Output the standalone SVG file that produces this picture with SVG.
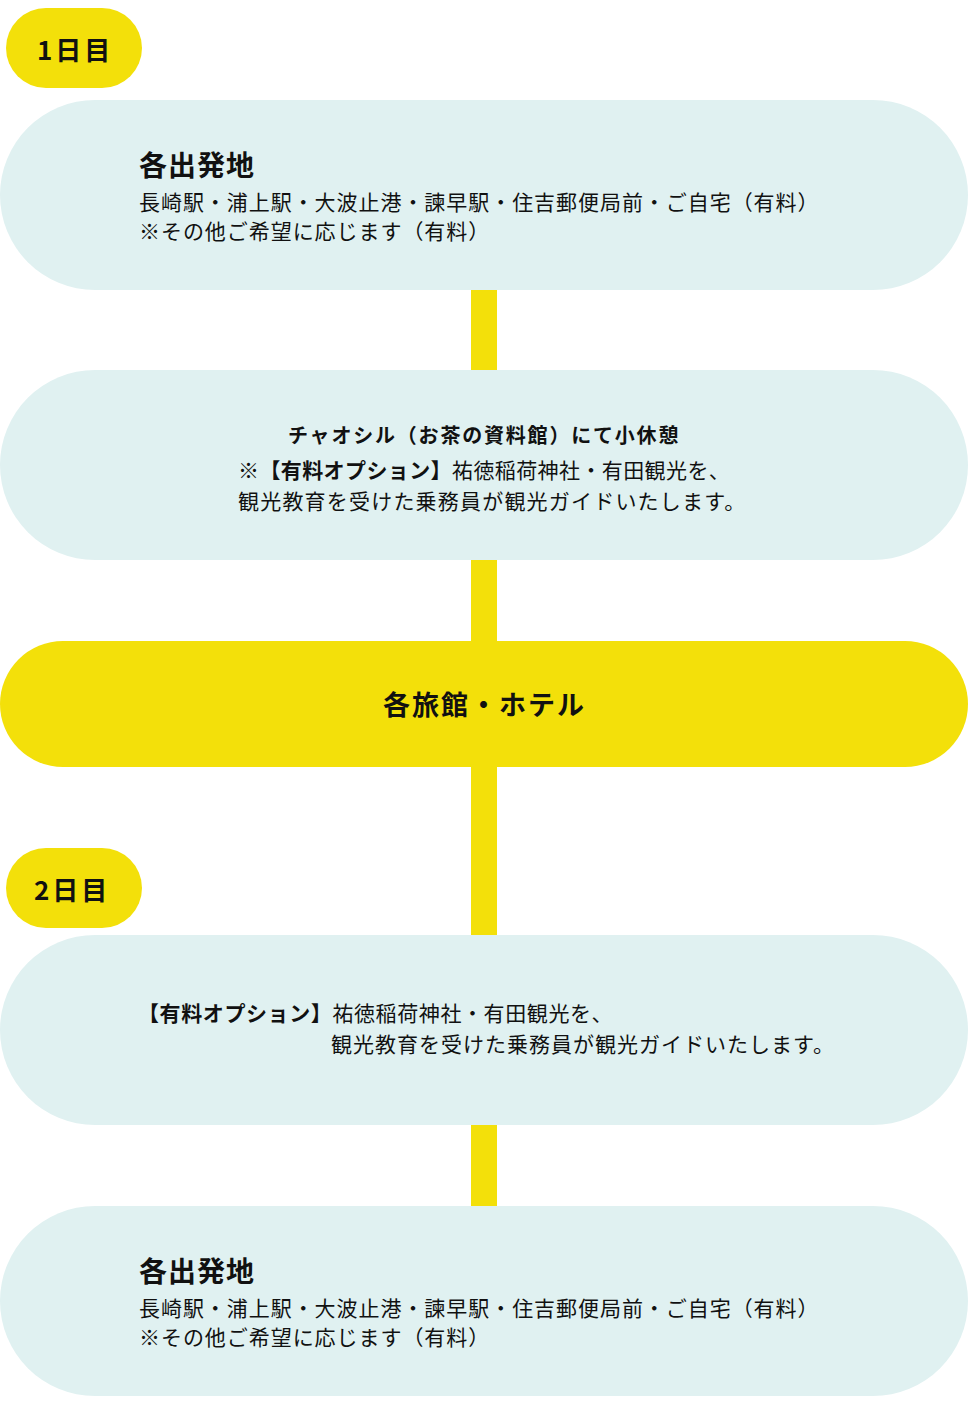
<svg xmlns="http://www.w3.org/2000/svg" width="968" height="1406" viewBox="0 0 968 1406">
<style>
.t{font-family:"Noto Sans CJK JP","Noto Sans",sans-serif;fill:#111;}
.b{font-weight:700;}
.blue{fill:#E0F1F1;}
.yel{fill:#F3E00A;}
.n{font-size:21px;}
.w{letter-spacing:0.95px;}
</style>
<rect width="968" height="1406" fill="#fff"/>
<g id="connectors" class="yel">
<rect x="471" y="288" width="26" height="84"/>
<rect x="471" y="558" width="26" height="85"/>
<rect x="471" y="765" width="26" height="172"/>
<rect x="471" y="1123" width="26" height="85"/>
</g>
<g id="day1">
<rect class="yel" x="6" y="8" width="136" height="80" rx="40"/>
<text class="t b" x="37" y="60" font-size="26" letter-spacing="3">1日目</text>
</g>
<g id="start1">
<rect class="blue" x="0" y="100" width="968" height="190" rx="95"/>
<text class="t b" x="139" y="176" font-size="28" letter-spacing="1">各出発地</text>
<text class="t n w" x="139" y="210">長崎駅・浦上駅・大波止港・諫早駅・住吉郵便局前・ご自宅（有料）</text>
<text class="t n w" x="139" y="239">※その他ご希望に応じます（有料）</text>
</g>
<g id="chaoshiru">
<rect class="blue" x="0" y="370" width="968" height="190" rx="95"/>
<text class="t b" x="288" y="443" font-size="20" letter-spacing="1.8">チャオシル（お茶の資料館）にて小休憩</text>
<text class="t n" x="238" y="478" letter-spacing="0.4">※<tspan class="b">【有料オプション】</tspan>祐徳稲荷神社・有田観光を、</text>
<text class="t n" x="238" y="509" letter-spacing="1.2">観光教育を受けた乗務員が観光ガイドいたします。</text>
</g>
<g id="hotel">
<rect class="yel" x="0" y="641" width="968" height="126" rx="63"/>
<text class="t b" x="383" y="715" font-size="27" letter-spacing="2">各旅館・ホテル</text>
</g>
<g id="day2">
<rect class="yel" x="6" y="848" width="136" height="80" rx="40"/>
<text class="t b" x="34" y="900" font-size="26" letter-spacing="3">2日目</text>
</g>
<g id="option2">
<rect class="blue" x="0" y="935" width="968" height="190" rx="95"/>
<text class="t n" x="138" y="1021" letter-spacing="0.6"><tspan class="b">【有料オプション】</tspan>祐徳稲荷神社・有田観光を、</text>
<text class="t n" x="331" y="1052" letter-spacing="1">観光教育を受けた乗務員が観光ガイドいたします。</text>
</g>
<g id="start2">
<rect class="blue" x="0" y="1206" width="968" height="190" rx="95"/>
<text class="t b" x="139" y="1282" font-size="28" letter-spacing="1">各出発地</text>
<text class="t n w" x="139" y="1316">長崎駅・浦上駅・大波止港・諫早駅・住吉郵便局前・ご自宅（有料）</text>
<text class="t n w" x="139" y="1345">※その他ご希望に応じます（有料）</text>
</g>
</svg>
